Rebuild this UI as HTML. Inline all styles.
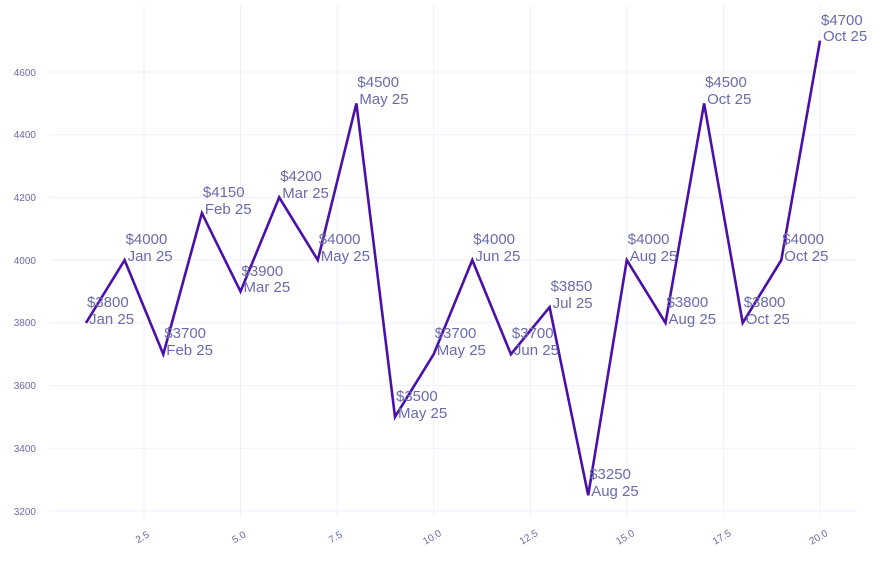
<!DOCTYPE html>
<html><head><meta charset="utf-8"><style>
html,body{margin:0;padding:0;background:#fff;}
svg{display:block;font-family:"Liberation Sans",sans-serif;}
.g{stroke:#f0eefc;stroke-width:1;}
.t{fill:#6b6baa;font-size:10px;}
.l{fill:#6b6baa;font-size:15px;}
</style></head><body>
<svg width="880" height="562" viewBox="0 0 880 562">
<g class="g">
<line x1="50" x2="856" y1="511" y2="511"/>
<line x1="50" x2="856" y1="448.3" y2="448.3"/>
<line x1="50" x2="856" y1="385.6" y2="385.6"/>
<line x1="50" x2="856" y1="322.9" y2="322.9"/>
<line x1="50" x2="856" y1="260.1" y2="260.1"/>
<line x1="50" x2="856" y1="197.4" y2="197.4"/>
<line x1="50" x2="856" y1="134.7" y2="134.7"/>
<line x1="50" x2="856" y1="72" y2="72"/>
<line x1="144.0" x2="144.0" y1="5" y2="517"/>
<line x1="240.5" x2="240.5" y1="5" y2="517"/>
<line x1="337.1" x2="337.1" y1="5" y2="517"/>
<line x1="433.7" x2="433.7" y1="5" y2="517"/>
<line x1="530.3" x2="530.3" y1="5" y2="517"/>
<line x1="626.8" x2="626.8" y1="5" y2="517"/>
<line x1="723.4" x2="723.4" y1="5" y2="517"/>
<line x1="820.0" x2="820.0" y1="5" y2="517"/>
</g>
<g class="t" text-anchor="end">
<text x="36" y="515">3200</text><text x="36" y="452">3400</text><text x="36" y="389">3600</text><text x="36" y="326">3800</text><text x="36" y="264">4000</text><text x="36" y="201">4200</text><text x="36" y="138">4400</text><text x="36" y="76">4600</text>
</g>
<g class="t" text-anchor="middle">
<text transform="translate(144,540) rotate(-30)">2.5</text>
<text transform="translate(240.5,540) rotate(-30)">5.0</text>
<text transform="translate(337.1,540) rotate(-30)">7.5</text>
<text transform="translate(433.7,540) rotate(-30)">10.0</text>
<text transform="translate(530.3,540) rotate(-30)">12.5</text>
<text transform="translate(626.8,540) rotate(-30)">15.0</text>
<text transform="translate(723.4,540) rotate(-30)">17.5</text>
<text transform="translate(820,540) rotate(-30)">20.0</text>
</g>
<polyline fill="none" stroke="#4a10a8" stroke-width="2.6" stroke-linejoin="miter" points="86,322.9 124.6,260.1 163.3,354.2 201.9,213.1 240.5,291.5 279.2,197.4 317.8,260.1 356.4,103.4 395,416.9 433.7,354.2 472.3,260.1 510.9,354.2 549.6,307.2 588.2,495.3 626.8,260.1 665.5,322.9 704.1,103.4 742.7,322.9 781.3,260.1 820,40.6"/>
<g class="l">
<text x="87" y="307">$3800</text><text x="89" y="324">Jan 25</text>
<text x="125.6" y="244">$4000</text><text x="127.6" y="261">Jan 25</text>
<text x="164.3" y="338">$3700</text><text x="166.3" y="355">Feb 25</text>
<text x="202.9" y="197">$4150</text><text x="204.9" y="214">Feb 25</text>
<text x="241.5" y="276">$3900</text><text x="243.5" y="292">Mar 25</text>
<text x="280.2" y="181">$4200</text><text x="282.2" y="198">Mar 25</text>
<text x="318.8" y="244">$4000</text><text x="320.8" y="261">May 25</text>
<text x="357.4" y="87">$4500</text><text x="359.4" y="104">May 25</text>
<text x="396" y="401">$3500</text><text x="398" y="418">May 25</text>
<text x="434.7" y="338">$3700</text><text x="436.7" y="355">May 25</text>
<text x="473.3" y="244">$4000</text><text x="475.3" y="261">Jun 25</text>
<text x="511.9" y="338">$3700</text><text x="513.9" y="355">Jun 25</text>
<text x="550.6" y="291">$3850</text><text x="552.6" y="308">Jul 25</text>
<text x="589.2" y="479">$3250</text><text x="591.2" y="496">Aug 25</text>
<text x="627.8" y="244">$4000</text><text x="629.8" y="261">Aug 25</text>
<text x="666.5" y="307">$3800</text><text x="668.5" y="324">Aug 25</text>
<text x="705.1" y="87">$4500</text><text x="707.1" y="104">Oct 25</text>
<text x="743.7" y="307">$3800</text><text x="745.7" y="324">Oct 25</text>
<text x="782.3" y="244">$4000</text><text x="784.3" y="261">Oct 25</text>
<text x="821" y="25">$4700</text><text x="823" y="41">Oct 25</text>
</g>
</svg>
</body></html>
